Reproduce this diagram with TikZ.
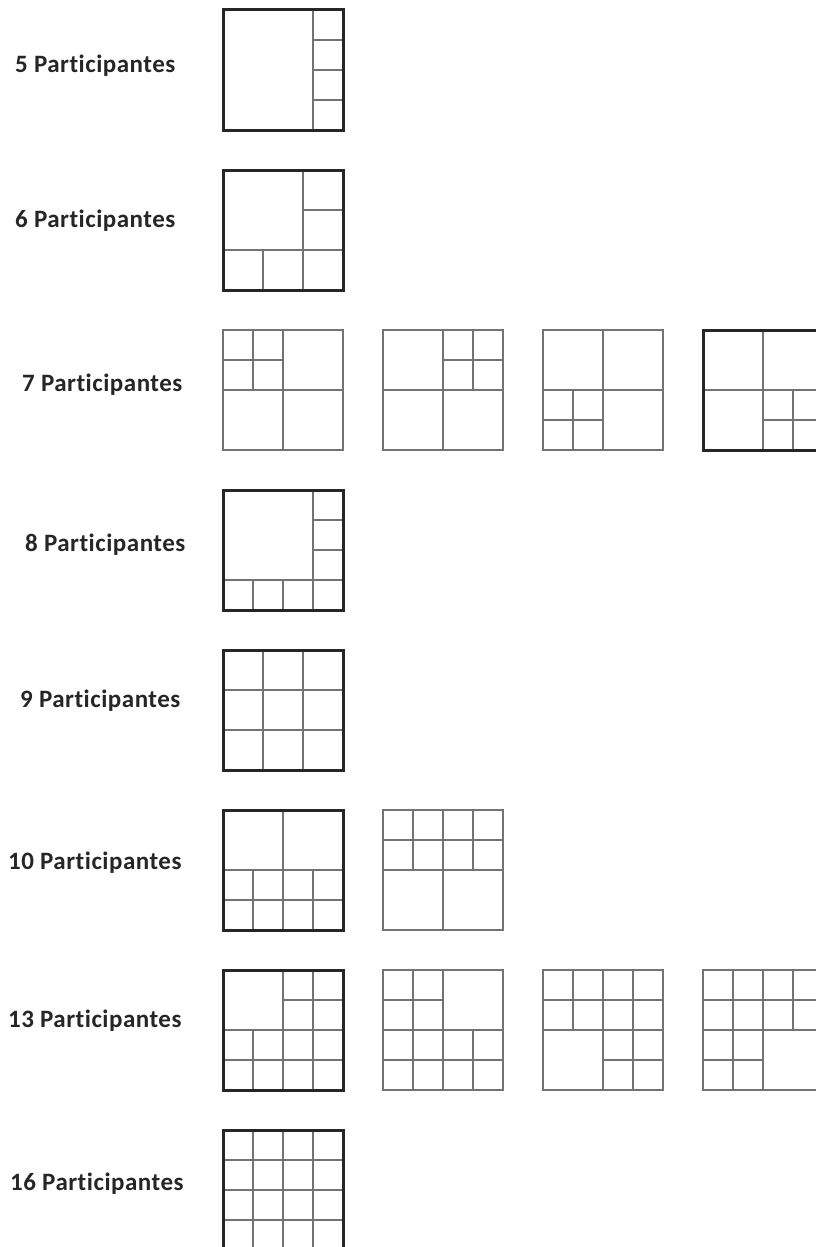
\documentclass[tikz,border=0pt]{standalone}
\usepackage{fontspec}
\setmainfont{Carlito}[Ligatures=NoCommon,LetterSpace=2]
\begin{document}
\begin{tikzpicture}[x=1pt,y=-1pt,
lbl/.style={font=\bfseries\fontsize{25}{28}\selectfont,anchor=west,inner sep=0pt,text=black!85},
cell/.style={draw=black!55,line width=2.2pt},
frame/.style={draw=black!85,line width=3pt}]
\useasboundingbox (0,0) rectangle (816,1247);
\clip (0,0) rectangle (816,1247);
% labels
\node[lbl] (p5) at (15,66) {5 Participantes};
\node[lbl] (p6) at (15,221) {6 Participantes};
\node[lbl] (p7) at (22,385) {7 Participantes};
\node[lbl] (p8) at (25,545) {8 Participantes};
\node[lbl] (p9) at (20,701) {9 Participantes};
\node[lbl] (p10) at (8,863) {10 Participantes};
\node[lbl] (p13) at (8,1021) {13 Participantes};
\node[lbl] (p16) at (10,1184) {16 Participantes};
% 5
\begin{scope}[xshift=223pt,yshift=-10pt,x=30pt,y=-30pt]
\draw[cell] (3,0)--(3,4) (3,1)--(4,1) (3,2)--(4,2) (3,3)--(4,3);
\draw[frame] (0,0) rectangle (4,4);
\end{scope}
% 6
\begin{scope}[xshift=223pt,yshift=-170pt,x=40pt,y=-40pt]
\draw[cell] (2,0)--(2,3) (0,2)--(3,2) (2,1)--(3,1) (1,2)--(1,3);
\draw[frame] (0,0) rectangle (3,3);
\end{scope}
% 7
\begin{scope}[xshift=223pt,yshift=-330pt,x=30pt,y=-30pt]
\draw[cell] (2,0)--(2,4) (0,2)--(4,2) (1,0)--(1,2) (0,1)--(2,1);
\draw[cell] (0,0) rectangle (4,4);
\end{scope}
\begin{scope}[xshift=383pt,yshift=-330pt,x=30pt,y=-30pt]
\draw[cell] (2,0)--(2,4) (0,2)--(4,2) (3,0)--(3,2) (2,1)--(4,1);
\draw[cell] (0,0) rectangle (4,4);
\end{scope}
\begin{scope}[xshift=543pt,yshift=-330pt,x=30pt,y=-30pt]
\draw[cell] (2,0)--(2,4) (0,2)--(4,2) (1,2)--(1,4) (0,3)--(2,3);
\draw[cell] (0,0) rectangle (4,4);
\end{scope}
\begin{scope}[xshift=703pt,yshift=-330pt,x=30pt,y=-30pt]
\draw[cell] (2,0)--(2,4) (0,2)--(4,2) (3,2)--(3,4) (2,3)--(4,3);
\draw[frame] (0,0) rectangle (4,4);
\end{scope}
% 8
\begin{scope}[xshift=223pt,yshift=-490pt,x=30pt,y=-30pt]
\draw[cell] (3,0)--(3,4) (0,3)--(4,3) (3,1)--(4,1) (3,2)--(4,2) (1,3)--(1,4) (2,3)--(2,4);
\draw[frame] (0,0) rectangle (4,4);
\end{scope}
% 9
\begin{scope}[xshift=223pt,yshift=-650pt,x=40pt,y=-40pt]
\foreach \k in {1,2} \draw[cell] (\k,0)--(\k,3) (0,\k)--(3,\k);
\draw[frame] (0,0) rectangle (3,3);
\end{scope}
% 10
\begin{scope}[xshift=223pt,yshift=-810pt,x=30pt,y=-30pt]
\draw[cell] (2,0)--(2,4) (0,2)--(4,2) (0,3)--(4,3) (1,2)--(1,4) (3,2)--(3,4);
\draw[frame] (0,0) rectangle (4,4);
\end{scope}
\begin{scope}[xshift=383pt,yshift=-810pt,x=30pt,y=-30pt]
\draw[cell] (2,0)--(2,4) (0,1)--(4,1) (0,2)--(4,2) (1,0)--(1,2) (3,0)--(3,2);
\draw[cell] (0,0) rectangle (4,4);
\end{scope}
% 13
\begin{scope}[xshift=223pt,yshift=-970pt,x=30pt,y=-30pt]
\draw[cell] (2,0)--(2,4) (3,0)--(3,4) (1,2)--(1,4) (0,2)--(4,2) (0,3)--(4,3) (2,1)--(4,1);
\draw[frame] (0,0) rectangle (4,4);
\end{scope}
\begin{scope}[xshift=383pt,yshift=-970pt,x=30pt,y=-30pt]
\draw[cell] (1,0)--(1,4) (2,0)--(2,4) (3,2)--(3,4) (0,2)--(4,2) (0,3)--(4,3) (0,1)--(2,1);
\draw[cell] (0,0) rectangle (4,4);
\end{scope}
\begin{scope}[xshift=543pt,yshift=-970pt,x=30pt,y=-30pt]
\draw[cell] (1,0)--(1,2) (2,0)--(2,4) (3,0)--(3,4) (0,1)--(4,1) (0,2)--(4,2) (2,3)--(4,3);
\draw[cell] (0,0) rectangle (4,4);
\end{scope}
\begin{scope}[xshift=703pt,yshift=-970pt,x=30pt,y=-30pt]
\draw[cell] (1,0)--(1,4) (2,0)--(2,4) (3,0)--(3,2) (0,1)--(4,1) (0,2)--(4,2) (0,3)--(2,3);
\draw[cell] (0,0) rectangle (4,4);
\end{scope}
% 16
\begin{scope}[xshift=223pt,yshift=-1130pt,x=30pt,y=-30pt]
\foreach \k in {1,2,3} \draw[cell] (\k,0)--(\k,4) (0,\k)--(4,\k);
\draw[frame] (0,0) rectangle (4,4);
\end{scope}
\end{tikzpicture}
\end{document}
